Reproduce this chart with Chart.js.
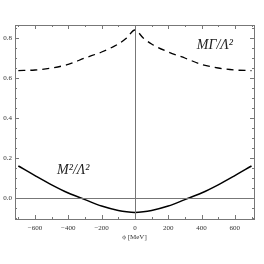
<!DOCTYPE html>
<html>
<head>
<meta charset="utf-8">
<script src="https://cdn.jsdelivr.net/npm/chart.js@4.4.0/dist/chart.umd.min.js"></script>
<style>
  html, body { margin: 0; padding: 0; background: #fff; }
  #wrap { width: 264px; height: 264px; }
</style>
</head>
<body>
<div id="wrap"><canvas id="c" width="264" height="264"></canvas></div>
<script>
// phi [MeV]
const phiValues = [-700, -600, -500, -400, -300, -200, -100, -50, 0, 50, 100, 200, 300, 400, 500, 600, 700];
// M Gamma / Lambda^2 (dashed)
const widthValues = [0.637, 0.640, 0.650, 0.668, 0.700, 0.730, 0.770, 0.800, 0.840, 0.800, 0.770, 0.730, 0.700, 0.668, 0.650, 0.640, 0.637];
// M^2 / Lambda^2 (solid)
const massValues = [0.160, 0.112, 0.066, 0.025, -0.008, -0.040, -0.062, -0.069, -0.072, -0.069, -0.062, -0.040, -0.008, 0.025, 0.066, 0.112, 0.160];
const xTicks = [-600, -400, -200, 0, 200, 400, 600];
const yTicks = [0.0, 0.2, 0.4, 0.6, 0.8];

const toPoints = (ys) => phiValues.map((x, i) => ({ x: x, y: ys[i] }));

// frame, inner ticks, zero lines and curve labels
const framePlugin = {
  id: 'frame',
  afterDatasetsDraw(chart) {
    const ctx = chart.ctx;
    const a = chart.chartArea;
    const xs = chart.scales.x, ys = chart.scales.y;
    ctx.save();
    ctx.strokeStyle = '#777';
    ctx.lineWidth = 1;
    // zero lines
    const x0 = Math.round(xs.getPixelForValue(0)) + 0.5;
    const y0 = Math.round(ys.getPixelForValue(0)) + 0.5;
    ctx.beginPath();
    ctx.moveTo(x0, a.top); ctx.lineTo(x0, a.bottom);
    ctx.moveTo(a.left, y0); ctx.lineTo(a.right, y0);
    ctx.stroke();
    // box
    ctx.strokeRect(Math.round(a.left) + 0.5, Math.round(a.top) + 0.5,
      Math.round(a.right - a.left), Math.round(a.bottom - a.top));
    // ticks on x
    ctx.beginPath();
    for (let v = -700; v <= 700; v += 100) {
      const px = Math.round(xs.getPixelForValue(v)) + 0.5;
      const len = v % 200 === 0 ? 4 : 2;
      ctx.moveTo(px, a.bottom); ctx.lineTo(px, a.bottom - len);
      ctx.moveTo(px, a.top); ctx.lineTo(px, a.top + len);
    }
    // ticks on y
    for (let k = -2; k <= 17; k++) {
      const v = k * 0.05;
      const py = Math.round(ys.getPixelForValue(v)) + 0.5;
      const len = k % 4 === 0 ? 4 : 2;
      ctx.moveTo(a.left, py); ctx.lineTo(a.left + len, py);
      ctx.moveTo(a.right, py); ctx.lineTo(a.right - len, py);
    }
    ctx.stroke();
    // curve labels
    ctx.fillStyle = '#222';
    ctx.font = 'italic 14px "Liberation Serif", "DejaVu Serif", serif';
    ctx.textAlign = 'center';
    ctx.textBaseline = 'middle';
    ctx.fillText('MΓ/Λ²', xs.getPixelForValue(480), ys.getPixelForValue(0.765));
    ctx.fillText('M²/Λ²', xs.getPixelForValue(-370), ys.getPixelForValue(0.14));
    ctx.restore();
  }
};

new Chart(document.getElementById('c'), {
  type: 'scatter',
  data: {
    datasets: [
      {
        label: 'MΓ/Λ²',
        data: toPoints(widthValues),
        showLine: true,
        borderColor: '#000',
        borderWidth: 1.3,
        borderDash: [7, 5],
        pointRadius: 0,
        cubicInterpolationMode: 'monotone'
      },
      {
        label: 'M²/Λ²',
        data: toPoints(massValues),
        showLine: true,
        borderColor: '#000',
        borderWidth: 1.5,
        pointRadius: 0,
        cubicInterpolationMode: 'monotone'
      }
    ]
  },
  options: {
    responsive: false,
    animation: false,
    layout: { padding: { top: 25, right: 10, left: 0, bottom: 23 } },
    plugins: { legend: { display: false }, tooltip: { enabled: false } },
    scales: {
      x: {
        type: 'linear',
        min: -720,
        max: 715,
        afterBuildTicks(scale) { scale.ticks = xTicks.map(v => ({ value: v })); },
        afterFit(scale) { scale.height = 22; },
        grid: { display: false, drawTicks: false },
        border: { display: false },
        ticks: {
          padding: 5,
          color: '#333',
          font: { family: '"Liberation Serif", "DejaVu Serif", serif', size: 7 },
          maxRotation: 0,
          callback: (v) => (v < 0 ? '\u2212' + Math.abs(v) : String(v))
        },
        title: {
          display: true,
          text: 'ϕ [MeV]',
          color: '#333',
          padding: { top: 2, bottom: 0 },
          font: { family: '"Liberation Serif", "DejaVu Serif", serif', size: 7 }
        }
      },
      y: {
        type: 'linear',
        min: -0.105,
        max: 0.865,
        afterBuildTicks(scale) { scale.ticks = yTicks.map(v => ({ value: v })); },
        afterFit(scale) { scale.width = 15; },
        grid: { display: false, drawTicks: false },
        border: { display: false },
        ticks: {
          padding: 3,
          color: '#333',
          font: { family: '"Liberation Serif", "DejaVu Serif", serif', size: 7 },
          callback: (v) => v.toFixed(1)
        }
      }
    }
  },
  plugins: [framePlugin]
});
</script>
</body>
</html>
